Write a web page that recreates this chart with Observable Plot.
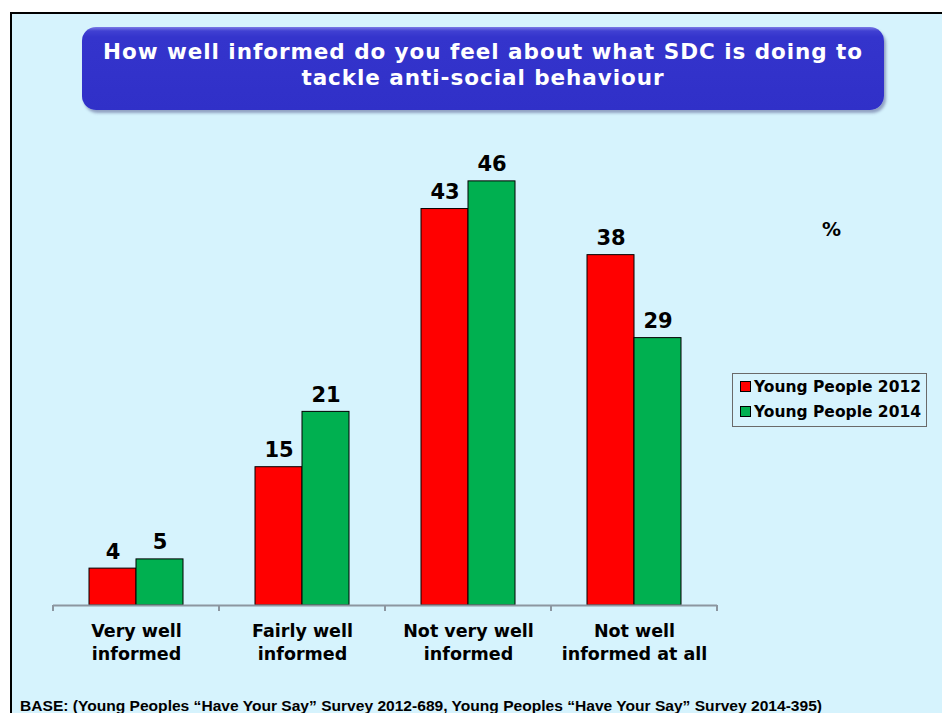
<!DOCTYPE html>
<html>
<head>
<meta charset="utf-8">
<script src="https://cdn.jsdelivr.net/npm/d3@7"></script>
<script src="https://cdn.jsdelivr.net/npm/@observablehq/plot@0.6"></script>
<style>
  html, body { margin: 0; padding: 0; background: #ffffff; }
  body { width: 942px; height: 713px; position: relative; overflow: hidden; font-family: "DejaVu Sans", Verdana, sans-serif; }
  #panel { position: absolute; left: 10px; top: 12px; right: -4px; bottom: -4px; background: #d6f3fd; border-top: 2px solid #000; border-left: 2px solid #000; }
  #titlebox { position: absolute; left: 82px; top: 27px; width: 802px; height: 83px; border-radius: 14px;
    background: linear-gradient(to bottom, #7a7ae6 0px, #4040d2 4px, #3434cc 10px, #3030c8 100%);
    box-shadow: 2px 3px 3px rgba(60,60,120,0.45); color: #fff; font-weight: bold; font-size: 21.5px; letter-spacing: 0.95px; text-align: center; line-height: 26px; box-sizing: border-box; padding-top: 12px; }
  #chart { position: absolute; left: 0; top: 0; }
  #pct { position: absolute; left: 822px; top: 218px; font-weight: bold; font-size: 19px; color: #000; }
  #legend { position: absolute; left: 732px; top: 373px; width: 195px; height: 54px; border: 1px solid #6a6a6a; box-sizing: border-box; font-weight: bold; font-size: 15.5px; color: #000; }
  .li { position: absolute; left: 7px; height: 20px; line-height: 20px; white-space: nowrap; }
  .sw { display: inline-block; width: 9px; height: 9px; border: 1px solid #000; margin-right: 3px; vertical-align: 0px; }
  #base { position: absolute; left: 20px; top: 698px; font-family: "Liberation Sans Narrow", "Liberation Sans", sans-serif; font-weight: bold; font-size: 14px; color: #000; white-space: nowrap; transform-origin: 0 0; }
</style>
</head>
<body>
<div id="panel"></div>
<div id="titlebox">How well informed do you feel about what SDC is doing to<br>tackle anti-social behaviour</div>
<div id="chart"></div>
<div id="pct">%</div>
<div id="legend"></div>
<div id="base">BASE: (Young Peoples “Have Your Say” Survey 2012-689, Young Peoples “Have Your Say” Survey 2014-395)</div>
<script>
const categories = ["Very well informed", "Fairly well informed", "Not very well informed", "Not well informed at all"];
const categoryLabels = ["Very well\ninformed", "Fairly well\ninformed", "Not very well\ninformed", "Not well\ninformed at all"];
const years = ["2012", "2014"];
const seriesLabels = ["Young People 2012", "Young People 2014"];
const values2012 = [4, 15, 43, 38];
const values2014 = [5, 21, 46, 29];
const colors = ["#ff0000", "#00b050"];

const data = [];
categories.forEach((c, i) => {
  data.push({cat: c, year: years[0], value: values2012[i]});
  data.push({cat: c, year: years[1], value: values2014[i]});
});
const labelRows = categories.map((c, i) => ({cat: c, label: categoryLabels[i]}));

const plot = Plot.plot({
  width: 942,
  height: 713,
  marginLeft: 52,
  marginRight: 225,
  marginTop: 144,
  marginBottom: 108,
  style: {background: "transparent", fontFamily: "DejaVu Sans, Verdana, sans-serif", overflow: "visible"},
  fx: {domain: categories, padding: 0, axis: null},
  x: {domain: years, paddingInner: 0, paddingOuter: 0.732, axis: null},
  y: {domain: [0, 50], axis: null},
  color: {domain: years, range: colors},
  marks: [
    Plot.barY(data, {fx: "cat", x: "year", y: "value", fill: "year", stroke: "#000", strokeWidth: 1}),
    Plot.ruleY([0], {stroke: "#8c96a0", strokeWidth: 2}),
    Plot.text(data, {fx: "cat", x: "year", y: "value", text: d => String(d.value), dy: -10, lineAnchor: "bottom", fontSize: 21, fontWeight: "bold", fill: "#000", letterSpacing: 0.5}),
    Plot.text(labelRows, {fx: "cat", frameAnchor: "bottom", text: "label", dy: 15, lineAnchor: "top", lineHeight: 1.33, fontSize: 17.5, fontWeight: "bold", fill: "#000", letterSpacing: 0.55})
  ]
});
document.getElementById("chart").appendChild(plot);

// facet boundary ticks on the baseline, positioned from the fx scale
const fx = plot.scale("fx");
const ys = plot.scale("y");
const y0 = ys.apply(0);
const svg = d3.select(plot.tagName.toLowerCase() === "svg" ? plot : plot.querySelector("svg"));
const edges = categories.map(c => fx.apply(c));
edges.push(fx.apply(categories[categories.length - 1]) + fx.bandwidth);
svg.append("g").selectAll("line").data(edges).join("line")
  .attr("x1", d => d).attr("x2", d => d)
  .attr("y1", y0).attr("y2", y0 + 6)
  .attr("stroke", "#8c96a0").attr("stroke-width", 2);

// legend
const legend = d3.select("#legend");
seriesLabels.forEach((s, i) => {
  const item = legend.append("div").attr("class", "li").style("top", (3 + i * 25) + "px");
  item.append("span").attr("class", "sw").style("background", colors[i]);
  item.append("span").text(s);
});

// stretch the condensed base note to the reference width
const base = document.getElementById("base");
const bw = base.getBoundingClientRect().width;
base.style.transform = "scaleX(" + (802 / bw) + ")";
</script>
</body>
</html>
